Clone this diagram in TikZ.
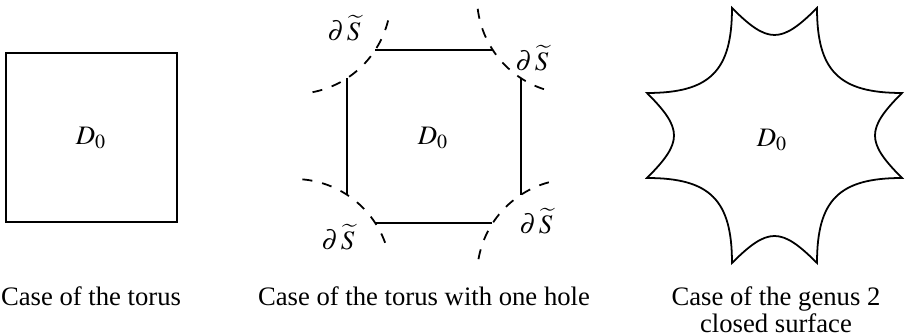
\documentclass[tikz,border=0pt]{standalone}
\usepackage{mathptmx}
\usepackage{fontspec}
\setmainfont{Liberation Serif}
\usetikzlibrary{positioning}

\begin{document}
\begin{tikzpicture}[x=0.45pt,y=-0.45pt,
    edge/.style={line width=0.8pt},
    bdry/.style={line width=0.8pt,dash pattern=on 4.5pt off 4.5pt},
    lbl/.style={font=\fontsize{12}{14}\selectfont},
    capt/.style={font=\fontsize{12}{12.2}\selectfont,align=center,anchor=base}]
  \useasboundingbox (0,0) rectangle (905,336);

  %% Case of the torus
  \draw[edge] (6,53) rectangle (177,222);
  \node[lbl] (dtorus) at (91,138) {$D_0$};
  \node[capt] (ctorus) at (91,306) {Case of the torus};

  %% Case of the torus with one hole
  \draw[edge] (375,50) -- (492,50);
  \draw[edge] (521,78) -- (521,195);
  \draw[edge] (492,223) -- (375,223);
  \draw[edge] (347,195) -- (347,78);
  \draw[bdry] (294,-3) ++(14:97)  arc[start angle=14,end angle=84,radius=97];
  \draw[bdry] (574,-3) ++(173:97) arc[start angle=173,end angle=105,radius=97];
  \draw[bdry] (294,276) ++(-85:97) arc[start angle=-85,end angle=-16,radius=97];
  \draw[bdry] (574,276) ++(190:97) arc[start angle=190,end angle=257,radius=97];
  \node[lbl] (dhole) at (433,138) {$D_0$};
  \node[lbl] (stl) at (344,28)  {$\partial\mkern2mu\widetilde{S}$};
  \node[lbl] (str) at (532,58)  {$\partial\mkern2mu\widetilde{S}$};
  \node[lbl] (sbr) at (536,221) {$\partial\mkern2mu\widetilde{S}$};
  \node[lbl] (sbl) at (338,237) {$\partial\mkern2mu\widetilde{S}$};
  \node[capt] (chole) at (424,306) {Case of the torus with one hole};

  %% Case of the genus 2 closed surface
  \begin{scope}[shift={(774.5,135.5)}]
    \draw[edge,line join=miter]
      (-42.5,-127.5) .. controls (-6.5,-91.5) and (6.5,-91.5) .. (42.5,-127.5)
      .. controls (42.5,-64.5) and (64.5,-42.5) .. (127.5,-42.5)
      .. controls (91.5,-6.5) and (91.5,6.5) .. (127.5,42.5)
      .. controls (64.5,42.5) and (42.5,64.5) .. (42.5,127.5)
      .. controls (6.5,91.5) and (-6.5,91.5) .. (-42.5,127.5)
      .. controls (-42.5,64.5) and (-64.5,42.5) .. (-127.5,42.5)
      .. controls (-91.5,6.5) and (-91.5,-6.5) .. (-127.5,-42.5)
      .. controls (-64.5,-42.5) and (-42.5,-64.5) .. cycle;
  \end{scope}
  \node[lbl] (dgenus) at (772,140) {$D_0$};
  \node[capt] (cgenus) at (776,333) {Case of the genus 2\\closed surface};
\end{tikzpicture}
\end{document}
